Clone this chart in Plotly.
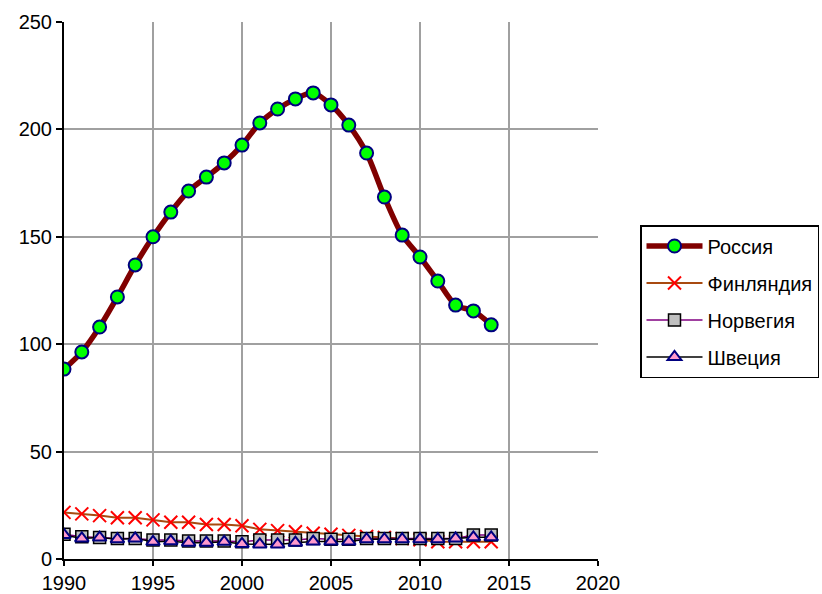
import plotly.graph_objects as go

years = list(range(1990, 2015))
russia = [88.4, 96.4, 108, 122, 136.9, 150, 161.5, 171.3, 177.8, 184.4, 192.7, 203, 209.5, 214.2, 217,
          211.4, 202, 189, 168.5, 150.8, 140.6, 129.4, 118.2, 115.5, 109]
finland = [21.7, 21, 20.2, 19.2, 19.2, 18.2, 17.1, 17.1, 16.1, 16.1, 15.5, 13.8, 13.2, 12.7, 12,
           11.5, 11, 10.5, 10, 9.5, 9, 8, 8, 8, 8]
norway = [11.5, 10.4, 10, 9.6, 9.6, 8.8, 8.8, 8.4, 8.4, 8.4, 8.0, 8.8, 8.8, 8.8, 9.6,
          9.2, 9.2, 9.6, 9.6, 9.6, 9.6, 9.6, 9.6, 11.2, 11.2]
sweden = [11.2, 9.6, 10, 9.2, 9.6, 8.0, 8.3, 7.6, 7.6, 8.0, 7.0, 6.8, 6.8, 7.6, 8.1,
          8.1, 8.1, 9.2, 9.2, 9.2, 9.2, 9.2, 9.6, 10.1, 10.1]

x_ticks = [1990, 1995, 2000, 2005, 2010, 2015, 2020]
y_ticks = [0, 50, 100, 150, 200, 250]

fig = go.Figure()
fig.add_trace(go.Scatter(x=years, y=russia, name="Россия", mode="lines+markers", legendgroup="a",
                         line=dict(color="#800000", width=5.5, shape="spline", smoothing=0.8),
                         marker=dict(symbol="circle", size=13, color="#00FF00",
                                     line=dict(color="#000080", width=2))))
fig.add_trace(go.Scatter(x=years, y=finland, name="Финляндия", mode="lines+markers", legendgroup="b",
                         line=dict(color="#A84A10", width=2),
                         marker=dict(symbol="x-thin", size=13, color="#FF0000",
                                     line=dict(color="#FF0000", width=2))))
fig.add_trace(go.Scatter(x=years, y=norway, name="Норвегия", mode="lines+markers", legendgroup="c",
                         line=dict(color="#800080", width=1.5),
                         marker=dict(symbol="square", size=12, color="#C0C0C0",
                                     line=dict(color="#000000", width=1.5))))
fig.add_trace(go.Scatter(x=years, y=sweden, name="Швеция", mode="lines+markers", legendgroup="d",
                         line=dict(color="#000000", width=1.5),
                         marker=dict(symbol="triangle-up", size=12, color="#FF99CC",
                                     line=dict(color="#000080", width=2))))

fig.update_layout(
    width=822, height=594,
    margin=dict(l=64, r=224, t=22, b=35),
    paper_bgcolor="white", plot_bgcolor="white",
    font=dict(family="Liberation Sans, Arial", size=20, color="black"),
    showlegend=True,
    legend=dict(xref="container", yref="container", x=640 / 822, y=1 - 225 / 594,
                xanchor="left", yanchor="top",
                bordercolor="black", borderwidth=1.5, bgcolor="white",
                font=dict(size=20), itemwidth=56, tracegroupgap=8),
)
fig.update_xaxes(range=[1990, 2020], tickvals=x_ticks, showgrid=True, gridcolor="#A0A0A0",
                 gridwidth=2, showline=True, linecolor="black", linewidth=2, automargin=False,
                 ticks="outside", ticklen=5, tickcolor="black", tickwidth=2, zeroline=False)
fig.update_yaxes(range=[0, 250], tickvals=y_ticks, showgrid=True, gridcolor="#A0A0A0",
                 gridwidth=2, showline=True, linecolor="black", linewidth=2, automargin=False,
                 ticks="outside", ticklen=6, tickcolor="black", tickwidth=2, zeroline=False)

fig.write_html("out.html", config={"displayModeBar": False},
               post_script="document.body.style.margin='0';document.body.style.overflow='hidden';")
